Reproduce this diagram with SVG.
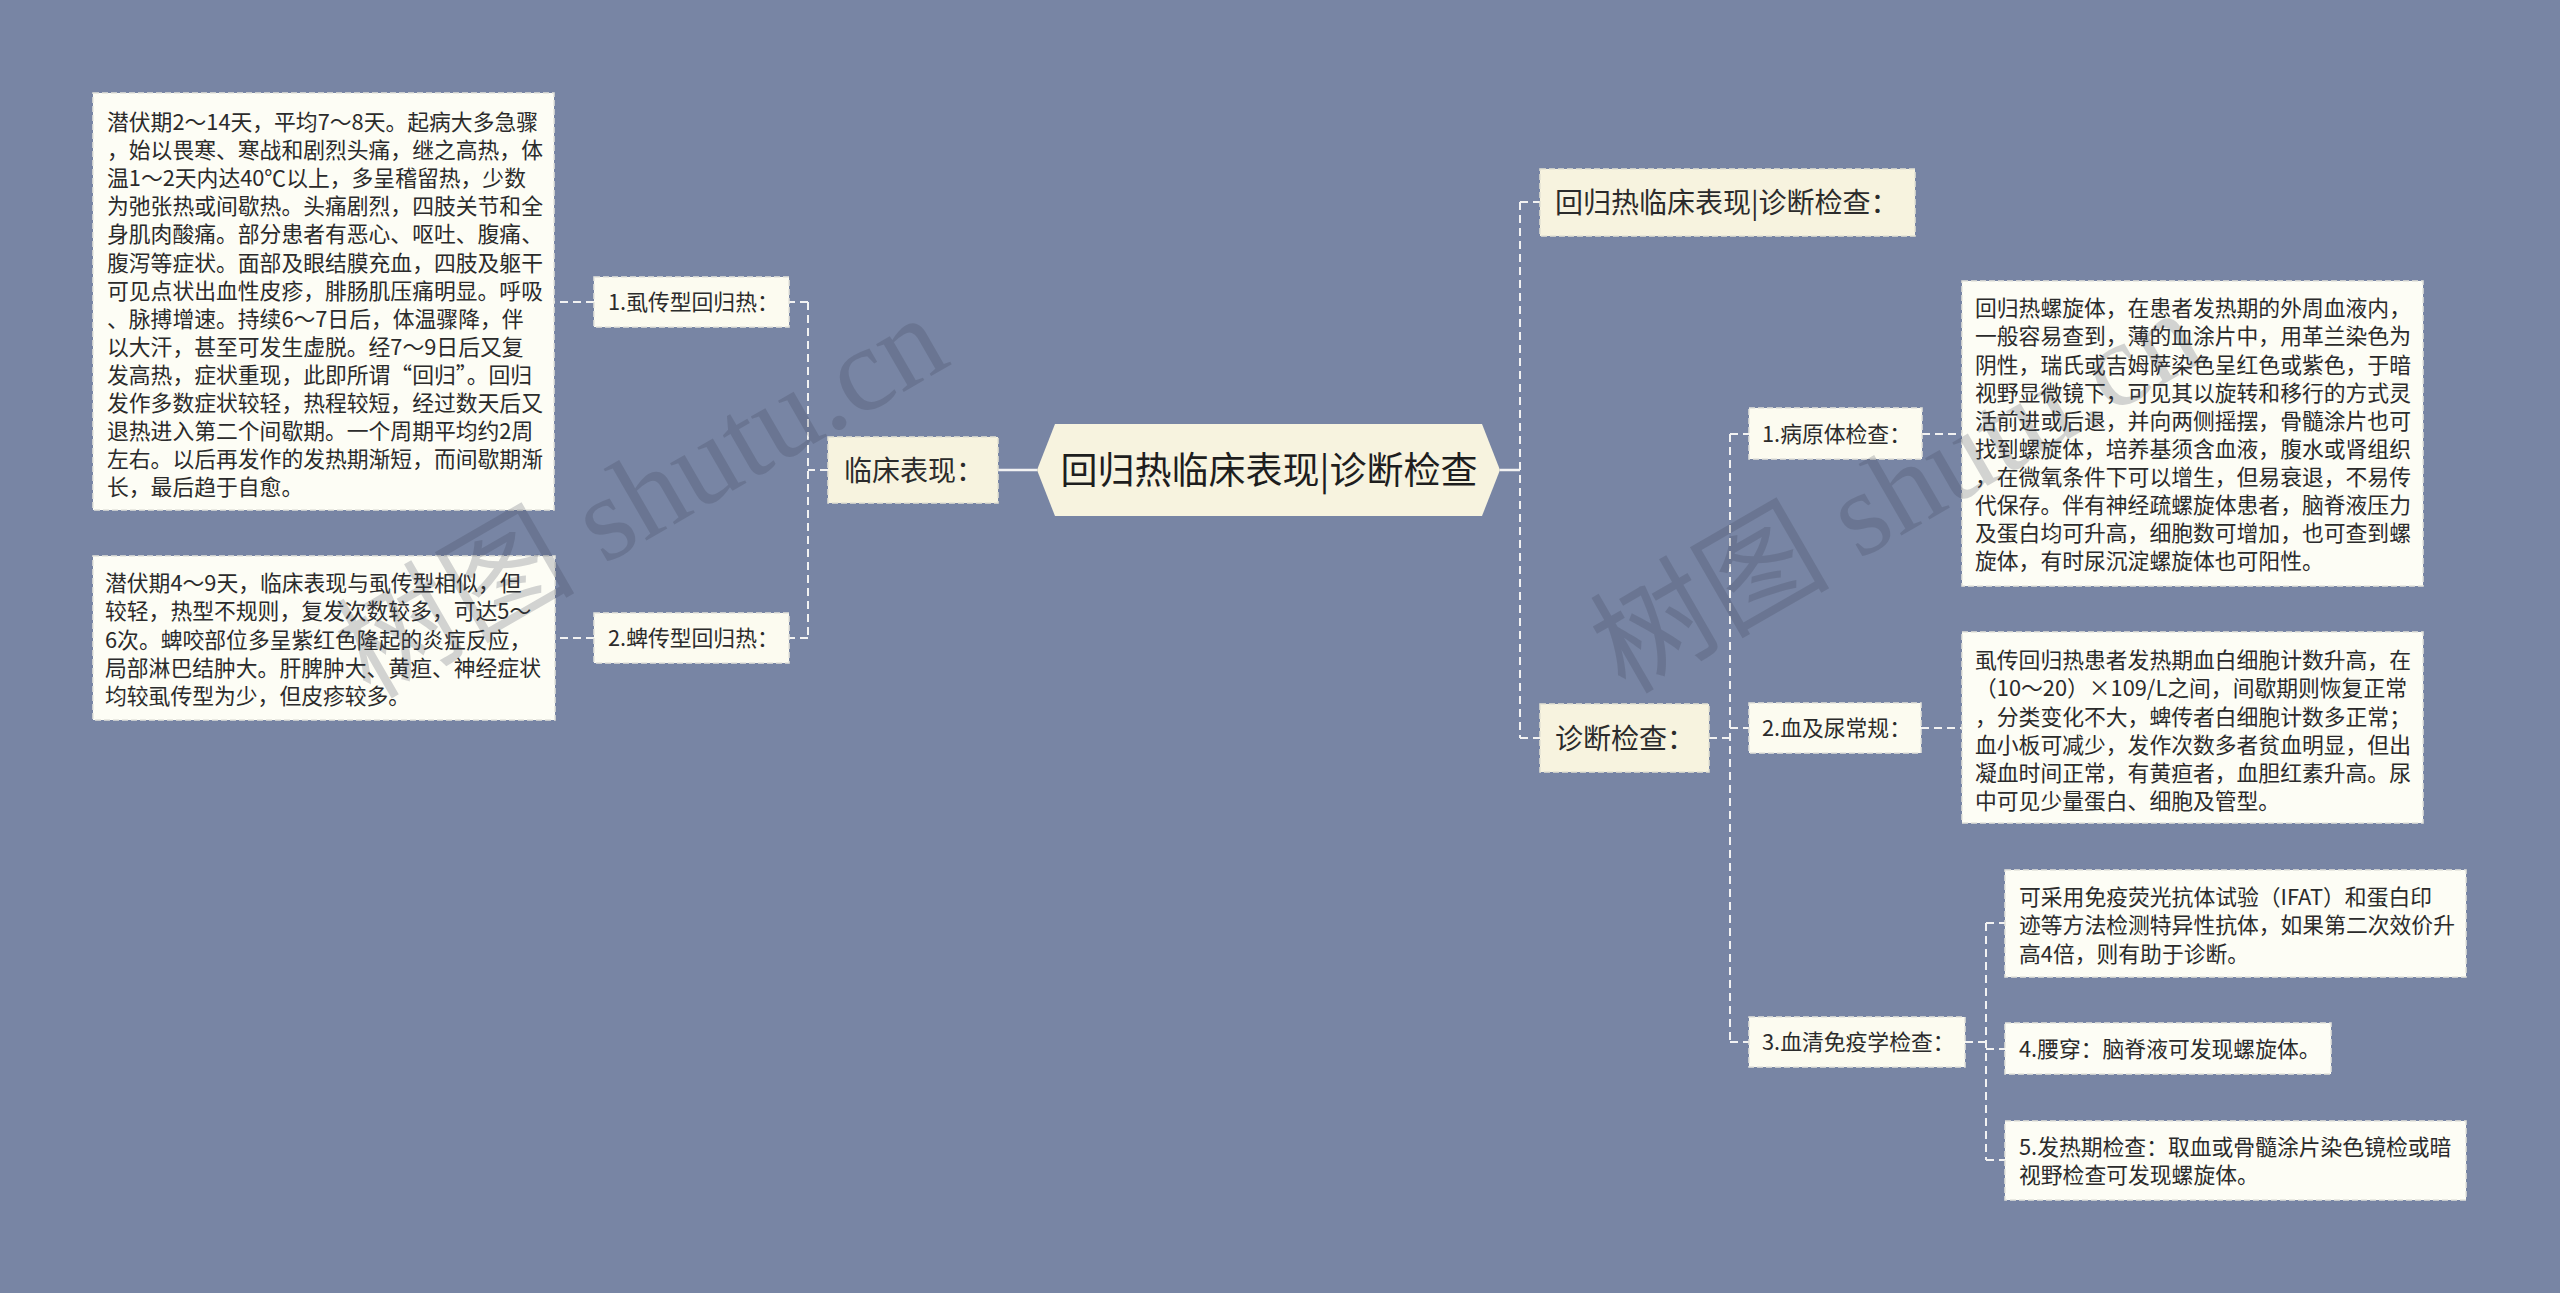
<svg xmlns="http://www.w3.org/2000/svg" width="2560" height="1293" viewBox="0 0 2560 1293">
<style>
text{font-family:"Noto Sans CJK SC","Noto Sans",sans-serif;fill:#2b2b2b}
.body{font-size:21.8px}
.l1{font-size:28px}
.root{font-size:37px;fill:#1e1e1e}
.leaf{fill:#fdfdf5;stroke:#e4e4dc;stroke-width:1.5;stroke-dasharray:6 3}
.sub{fill:#fcfbf0;stroke:#e4e4dc;stroke-width:1.5;stroke-dasharray:6 3}
.main{fill:#f7f3df;stroke:#e4e2d4;stroke-width:1.5;stroke-dasharray:6 3}
.dash{fill:none;stroke:#f2f2f2;stroke-width:2;stroke-dasharray:8 5}
.solid{fill:none;stroke:#f2f2f2;stroke-width:2.5}
.wm{font-family:"Liberation Serif","Noto Sans CJK SC",serif;font-size:120px;fill:#3c4252;fill-opacity:0.22}
</style>
<rect x="0" y="0" width="2560" height="1293" fill="#7885a4"/>

<g id="connectors">
  <line class="solid" x1="998" y1="470" x2="1037" y2="470"/>
  <path class="dash" d="M828 470 H808 M808 302 V638 M808 302 H789 M808 638 H789"/>
  <path class="dash" d="M594 302 H554 M594 638 H555"/>
  <line class="solid" x1="1500" y1="470" x2="1520" y2="470"/>
  <path class="dash" d="M1520 202 V738 M1520 202 H1540 M1520 738 H1540"/>
  <path class="dash" d="M1709 738 H1730 M1730 434 V1042 M1730 434 H1749 M1730 728 H1749 M1730 1042 H1749"/>
  <path class="dash" d="M1922 434 H1962 M1921 728 H1962"/>
  <path class="dash" d="M1965 1042 H1986 M1986 923 V1160 M1986 923 H2005 M1986 1049 H2005 M1986 1160 H2005"/>
</g>

<g id="root">
  <polygon points="1037,470 1055,424 1482,424 1500,470 1482,516 1055,516" fill="#f7f3df"/>
  <text class="root" x="1269" y="484" text-anchor="middle">回归热临床表现|诊断检查</text>
</g>

<g id="clinical">
  <rect class="main" x="828" y="437" width="170" height="66"/>
  <text class="l1" x="844" y="480.6">临床表现：</text>
</g>

<g id="louse">
  <rect class="sub" x="594" y="277" width="195" height="50"/>
  <text class="body" x="608" y="310.3">1.虱传型回归热：</text>
</g>

<g id="tick">
  <rect class="sub" x="594" y="613" width="195" height="50"/>
  <text class="body" x="608" y="646.3">2.蜱传型回归热：</text>
</g>

<g id="louse-text">
  <rect class="leaf" x="93" y="93" width="461" height="417"/>
  <text class="body">
    <tspan x="107" y="130">潜伏期2～14天，平均7～8天。起病大多急骤</tspan>
    <tspan x="107" y="158.1">，始以畏寒、寒战和剧烈头痛，继之高热，体</tspan>
    <tspan x="107" y="186.2">温1～2天内达40℃以上，多呈稽留热，少数</tspan>
    <tspan x="107" y="214.3">为弛张热或间歇热。头痛剧烈，四肢关节和全</tspan>
    <tspan x="107" y="242.4">身肌肉酸痛。部分患者有恶心、呕吐、腹痛、</tspan>
    <tspan x="107" y="270.5">腹泻等症状。面部及眼结膜充血，四肢及躯干</tspan>
    <tspan x="107" y="298.6">可见点状出血性皮疹，腓肠肌压痛明显。呼吸</tspan>
    <tspan x="107" y="326.7">、脉搏增速。持续6～7日后，体温骤降，伴</tspan>
    <tspan x="107" y="354.8">以大汗，甚至可发生虚脱。经7～9日后又复</tspan>
    <tspan x="107" y="382.9">发高热，症状重现，此即所谓“回归”。回归</tspan>
    <tspan x="107" y="411">发作多数症状较轻，热程较短，经过数天后又</tspan>
    <tspan x="107" y="439.1">退热进入第二个间歇期。一个周期平均约2周</tspan>
    <tspan x="107" y="467.2">左右。以后再发作的发热期渐短，而间歇期渐</tspan>
    <tspan x="107" y="495.3">长，最后趋于自愈。</tspan>
  </text>
</g>

<g id="tick-text">
  <rect class="leaf" x="93" y="556" width="462" height="164"/>
  <text class="body">
    <tspan x="105" y="591.3">潜伏期4～9天，临床表现与虱传型相似，但</tspan>
    <tspan x="105" y="619.4">较轻，热型不规则，复发次数较多，可达5～</tspan>
    <tspan x="105" y="647.5">6次。蜱咬部位多呈紫红色隆起的炎症反应，</tspan>
    <tspan x="105" y="675.6">局部淋巴结肿大。肝脾肿大、黄疸、神经症状</tspan>
    <tspan x="105" y="703.7">均较虱传型为少，但皮疹较多。</tspan>
  </text>
</g>

<g id="title-right">
  <rect class="main" x="1540" y="169" width="375" height="67"/>
  <text class="l1" x="1555" y="212.6">回归热临床表现|诊断检查：</text>
</g>

<g id="diagnosis">
  <rect class="main" x="1540" y="704" width="169" height="68"/>
  <text class="l1" x="1555" y="748.6">诊断检查：</text>
</g>

<g id="pathogen">
  <rect class="sub" x="1749" y="408" width="173" height="51"/>
  <text class="body" x="1762" y="442.3">1.病原体检查：</text>
</g>

<g id="pathogen-text">
  <rect class="leaf" x="1962" y="281" width="461" height="305"/>
  <text class="body">
    <tspan x="1975" y="316.3">回归热螺旋体，在患者发热期的外周血液内，</tspan>
    <tspan x="1975" y="344.4">一般容易查到，薄的血涂片中，用革兰染色为</tspan>
    <tspan x="1975" y="372.5">阴性，瑞氏或吉姆萨染色呈红色或紫色，于暗</tspan>
    <tspan x="1975" y="400.6">视野显微镜下，可见其以旋转和移行的方式灵</tspan>
    <tspan x="1975" y="428.7">活前进或后退，并向两侧摇摆，骨髓涂片也可</tspan>
    <tspan x="1975" y="456.8">找到螺旋体，培养基须含血液，腹水或肾组织</tspan>
    <tspan x="1975" y="484.9">，在微氧条件下可以增生，但易衰退，不易传</tspan>
    <tspan x="1975" y="513">代保存。伴有神经疏螺旋体患者，脑脊液压力</tspan>
    <tspan x="1975" y="541.1">及蛋白均可升高，细胞数可增加，也可查到螺</tspan>
    <tspan x="1975" y="569.2">旋体，有时尿沉淀螺旋体也可阳性。</tspan>
  </text>
</g>

<g id="blood">
  <rect class="sub" x="1749" y="703" width="172" height="50"/>
  <text class="body" x="1762" y="736.3">2.血及尿常规：</text>
</g>

<g id="blood-text">
  <rect class="leaf" x="1962" y="632" width="461" height="191"/>
  <text class="body">
    <tspan x="1975" y="668.3">虱传回归热患者发热期血白细胞计数升高，在</tspan>
    <tspan x="1975" y="696.4">（10～20）×109/L之间，间歇期则恢复正常</tspan>
    <tspan x="1975" y="724.5">，分类变化不大，蜱传者白细胞计数多正常；</tspan>
    <tspan x="1975" y="752.6">血小板可减少，发作次数多者贫血明显，但出</tspan>
    <tspan x="1975" y="780.7">凝血时间正常，有黄疸者，血胆红素升高。尿</tspan>
    <tspan x="1975" y="808.8">中可见少量蛋白、细胞及管型。</tspan>
  </text>
</g>

<g id="serology">
  <rect class="sub" x="1749" y="1017" width="216" height="50"/>
  <text class="body" x="1762" y="1050.3">3.血清免疫学检查：</text>
</g>

<g id="ifat">
  <rect class="leaf" x="2005" y="870" width="461" height="107"/>
  <text class="body">
    <tspan x="2019" y="905.3">可采用免疫荧光抗体试验（IFAT）和蛋白印</tspan>
    <tspan x="2019" y="933.4">迹等方法检测特异性抗体，如果第二次效价升</tspan>
    <tspan x="2019" y="961.5">高4倍，则有助于诊断。</tspan>
  </text>
</g>

<g id="lumbar">
  <rect class="leaf" x="2005" y="1023" width="326" height="51"/>
  <text class="body" x="2019" y="1057.3">4.腰穿：脑脊液可发现螺旋体。</text>
</g>

<g id="fever">
  <rect class="leaf" x="2005" y="1121" width="461" height="79"/>
  <text class="body">
    <tspan x="2019" y="1155.3">5.发热期检查：取血或骨髓涂片染色镜检或暗</tspan>
    <tspan x="2019" y="1183.4">视野检查可发现螺旋体。</tspan>
  </text>
</g>

<g id="watermark">
  <text class="wm" x="370" y="700" transform="rotate(-30 370 700)">树图 shutu.cn</text>
  <text class="wm" x="1625" y="695" transform="rotate(-30 1625 695)">树图 shutu.cn</text>
</g>
</svg>
